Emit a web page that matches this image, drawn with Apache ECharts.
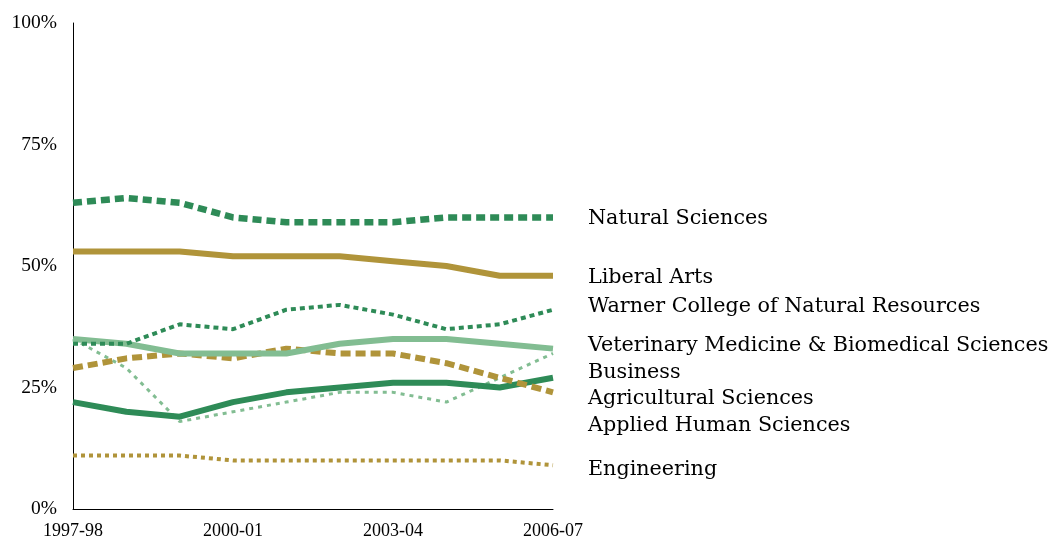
<!DOCTYPE html>
<html><head><meta charset="utf-8">
<script src="https://cdn.jsdelivr.net/npm/echarts@6/dist/echarts.min.js"></script>
<style>html,body{margin:0;padding:0;background:#fff}#c{width:1051px;height:540px}</style>
</head><body><div id="c"></div>
<script>
const years = ['1997-98','1998-99','1999-00','2000-01','2001-02','2002-03','2003-04','2004-05','2005-06','2006-07'];
const naturalSciences = [63,64,63,60,59,59,59,60,60,60];
const liberalArts = [53,53,53,52,52,52,51,50,48,48];
const warner = [34,34,38,37,41,42,40,37,38,41];
const veterinary = [35,34,32,32,32,34,35,35,34,33];
const business = [29,31,32,31,33,32,32,30,27,24];
const agricultural = [22,20,19,22,24,25,26,26,25,27];
const appliedHuman = [35,29,18,20,22,24,24,22,27,32];
const engineering = [11,11,11,10,10,10,10,10,10,9];
const labelNames = ['Natural Sciences','Liberal Arts','Warner College of Natural Resources','Veterinary Medicine & Biomedical Sciences','Business','Agricultural Sciences','Applied Human Sciences','Engineering'];
const labelLevels = [59.75,47.64,41.68,33.68,28.13,22.79,17.25,8.01];

const DG='#2E8B57', GOLD='#B0943A', LG='#82BD92';
const LFONT='DejaVu Serif', TFONT='Liberation Serif';
function s(name,data,color,width,type){
  return {name,type:'line',data,symbol:'none',smooth:false,
    lineStyle:{color,width,type,cap:'butt'},z:2};
}
const chart = echarts.init(document.getElementById('c'));
chart.setOption({
  animation:false,
  grid:{left:73,right:498,top:23,bottom:30},
  xAxis:{type:'category',data:years,boundaryGap:false,
    axisLine:{lineStyle:{color:'#000',width:1}},axisTick:{show:false},
    axisLabel:{interval:2,color:'#000',fontFamily:TFONT,fontSize:18,margin:13}},
  yAxis:{type:'value',min:0,max:100,interval:25,
    axisLine:{show:true,lineStyle:{color:'#000',width:1}},axisTick:{show:false},splitLine:{show:false},
    axisLabel:{color:'#000',fontFamily:TFONT,fontSize:19.5,margin:16,formatter:v=>v+'%'}},
  series:[
    s('Engineering',engineering,GOLD,4,[4,4]),
    s('Applied Human Sciences',appliedHuman,LG,3,[4,5]),
    s('Agricultural Sciences',agricultural,DG,6,'solid'),
    s('Business',business,GOLD,6,[10,5]),
    s('Veterinary Medicine & Biomedical Sciences',veterinary,LG,6,'solid'),
    s('Warner College of Natural Resources',warner,DG,4,[5,4]),
    s('Liberal Arts',liberalArts,GOLD,6,'solid'),
    s('Natural Sciences',naturalSciences,DG,6.5,[9,5])
  ]
});
const xEnd = chart.convertToPixel({xAxisIndex:0}, years[years.length-1]);
chart.setOption({graphic:labelNames.map((t,i)=>({type:'text',
  x:xEnd+35, y:chart.convertToPixel({yAxisIndex:0},labelLevels[i]),
  style:{text:t,fill:'#000',font:'20.7px "'+LFONT+'"',textVerticalAlign:'middle',verticalAlign:'middle'}}))});
</script></body></html>
